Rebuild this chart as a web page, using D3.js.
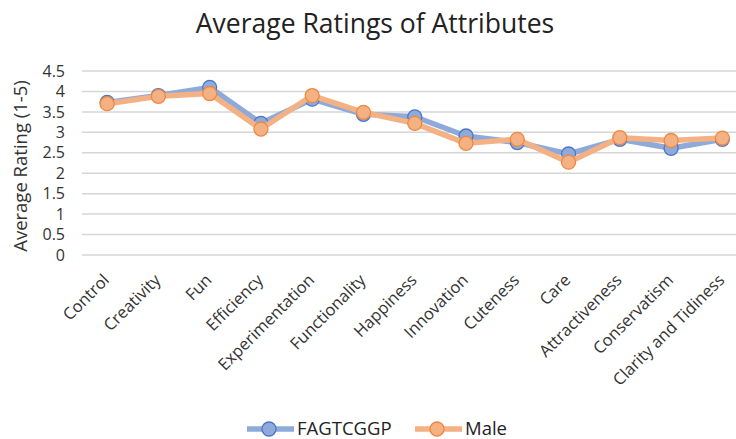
<!DOCTYPE html>
<html>
<head>
<meta charset="utf-8">
<script src="https://cdn.jsdelivr.net/npm/d3@7"></script>
<style>
  html, body { margin: 0; padding: 0; background: #fff; }
  svg { display: block; font-family: "Open Sans", "DejaVu Sans", sans-serif; }
</style>
</head>
<body>
<svg id="chart" width="736" height="439"></svg>
<script>
// Attributes rated on a 1-5 scale
const categories = ["Control", "Creativity", "Fun", "Efficiency", "Experimentation",
  "Functionality", "Happiness", "Innovation", "Cuteness", "Care",
  "Attractiveness", "Conservatism", "Clarity and Tidiness"];
const fagtcggp = [3.73, 3.90, 4.10, 3.22, 3.81, 3.44, 3.38, 2.91, 2.75, 2.47, 2.83, 2.61, 2.83];
const male     = [3.70, 3.88, 3.95, 3.08, 3.90, 3.49, 3.22, 2.73, 2.83, 2.27, 2.87, 2.80, 2.86];
const yTicks = [0, 0.5, 1, 1.5, 2, 2.5, 3, 3.5, 4, 4.5];
const seriesNames = ["FAGTCGGP", "Male"];

const series = [
  { name: seriesNames[0], values: fagtcggp, line: "#8eaadb", fill: "#8eaadb", stroke: "#4a76c8" },
  { name: seriesNames[1], values: male,     line: "#f4b183", fill: "#f4b183", stroke: "#ee8840" }
];

const svg = d3.select("#chart");

const x = d3.scaleBand().domain(categories).range([81.5, 748]);
const y = d3.scaleLinear().domain([0, 4.5]).range([255, 71]);
const cx = d => x(d) + x.bandwidth() / 2;

// Title
svg.append("text")
  .attr("x", 375).attr("y", 33)
  .attr("text-anchor", "middle")
  .attr("font-size", 26.5)
  .attr("fill", "#222")
  .text("Average Ratings of Attributes");

// Horizontal gridlines
svg.append("g")
  .selectAll("line")
  .data(yTicks)
  .join("line")
  .attr("x1", 82).attr("x2", 748)
  .attr("y1", d => y(d)).attr("y2", d => y(d))
  .attr("stroke", "#d6d6d6")
  .attr("stroke-width", 1.5);

// Y axis tick labels
const yAxis = d3.axisLeft(y).tickValues(yTicks).tickSize(0).tickPadding(0)
  .tickFormat(d3.format(""));
svg.append("g")
  .attr("transform", "translate(65,0)")
  .call(yAxis)
  .call(g => g.select(".domain").remove())
  .call(g => g.selectAll("text")
    .attr("font-family", "'Open Sans', sans-serif")
    .attr("font-size", 16)
    .attr("fill", "#333"));

// Y axis title
svg.append("text")
  .attr("transform", "translate(27,166) rotate(-90)")
  .attr("text-anchor", "middle")
  .attr("font-size", 18.5)
  .attr("fill", "#333")
  .text("Average Rating (1-5)");

// X axis category labels, rotated
const xAxis = d3.axisBottom(x).tickSize(0).tickPadding(0);
svg.append("g")
  .attr("transform", "translate(0,277)")
  .call(xAxis)
  .call(g => g.select(".domain").remove())
  .call(g => g.selectAll("text")
    .attr("font-family", "'Open Sans', sans-serif")
    .attr("font-size", 16.5)
    .attr("fill", "#333")
    .attr("text-anchor", "end")
    .attr("y", 0)
    .attr("dy", "0.35em")
    .attr("transform", "translate(-1,0) rotate(-45)"));

// Series lines and markers
const line = d3.line().x((d, i) => cx(categories[i])).y(d => y(d));

series.forEach(s => {
  const g = svg.append("g");
  g.append("path")
    .datum(s.values)
    .attr("d", line)
    .attr("fill", "none")
    .attr("stroke", s.line)
    .attr("stroke-width", 5.5)
    .attr("stroke-linejoin", "round");
  g.selectAll("circle")
    .data(s.values)
    .join("circle")
    .attr("cx", (d, i) => cx(categories[i]))
    .attr("cy", d => y(d))
    .attr("r", 7)
    .attr("fill", s.fill)
    .attr("stroke", s.stroke)
    .attr("stroke-width", 1.3);
});

// Legend
const legendPos = [{ x: 247, tx: 297 }, { x: 415, tx: 465 }];
series.forEach((s, i) => {
  const lg = svg.append("g").attr("transform", `translate(${legendPos[i].x},429)`);
  lg.append("line")
    .attr("x1", 0).attr("x2", 47)
    .attr("stroke", s.line).attr("stroke-width", 5.5);
  lg.append("circle")
    .attr("cx", 22).attr("r", 7)
    .attr("fill", s.fill).attr("stroke", s.stroke).attr("stroke-width", 1.3);
  svg.append("text")
    .attr("x", legendPos[i].tx).attr("y", 435)
    .attr("font-size", 18.5)
    .attr("fill", "#222")
    .text(s.name);
});
</script>
</body>
</html>
